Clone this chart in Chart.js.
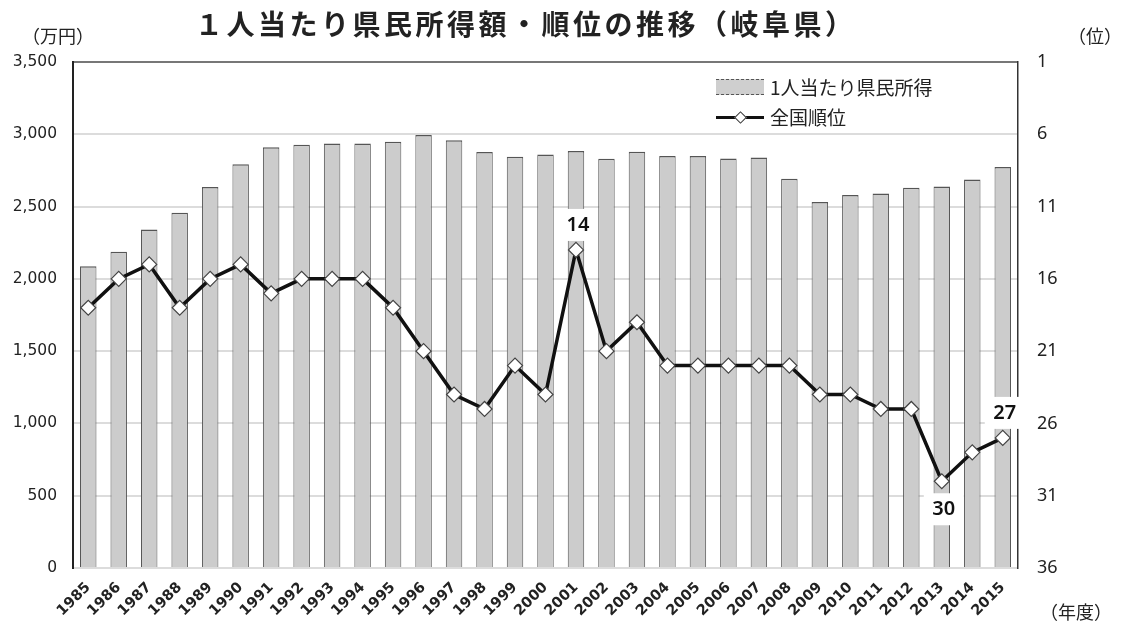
<!DOCTYPE html>
<html lang="ja">
<head>
<meta charset="utf-8">
<script src="https://cdn.jsdelivr.net/npm/chart.js@4.4.1/dist/chart.umd.min.js"></script>
<style>
  html, body { margin: 0; padding: 0; background: #fff; }
  #wrap { position: relative; width: 1124px; height: 632px; overflow: hidden; font-family: "Noto Sans CJK JP", sans-serif; color: #222; }
  #chart { position: absolute; left: 0; top: 0; }
  .txt { position: absolute; white-space: nowrap; }
  #title { left: 195px; top: 3px; font-size: 28px; letter-spacing: 3.5px; font-weight: 700; }
  #unitL { left: 22px; top: 22px; font-size: 18px; }
  #unitR { left: 1068px; top: 22px; font-size: 18px; }
  #unitX { left: 1040px; top: 598px; font-size: 18px; }
  .leg { position: absolute; left: 716px; font-size: 19px; display: flex; align-items: center; }
  .leg .sym { width: 48px; height: 16px; position: relative; margin-right: 6px; }
  .sym.bar { background: #cfcfcf; border-top: 1px dashed #555; border-bottom: 1px dashed #555; box-sizing: border-box; }
  .sym.line::before { content: ""; position: absolute; left: 0; right: 0; top: 7px; height: 3px; background: #111; }
  .sym.line::after { content: ""; position: absolute; left: 20px; top: 4px; width: 7px; height: 7px; background: #fff; border: 1px solid #333; transform: rotate(45deg); }
</style>
</head>
<body>
<div id="wrap">
  <canvas id="chart" width="1124" height="632"></canvas>
  <div class="txt" id="title">１人当たり県民所得額・順位の推移（岐阜県）</div>
  <div class="txt" id="unitL">（万円）</div>
  <div class="txt" id="unitR">（位）</div>
  <div class="txt" id="unitX">（年度）</div>
  <div class="leg" style="top:73px"><span class="sym bar"></span>1人当たり県民所得</div>
  <div class="leg" style="top:103px"><span class="sym line"></span>全国順位</div>
</div>
<script>
const years = ['1985', '1986', '1987', '1988', '1989', '1990', '1991', '1992', '1993', '1994',
  '1995', '1996', '1997', '1998', '1999', '2000', '2001', '2002', '2003', '2004',
  '2005', '2006', '2007', '2008', '2009', '2010', '2011', '2012', '2013', '2014', '2015'];

// 1人当たり県民所得（万円）
const income = [2088, 2188, 2342, 2458, 2635, 2792, 2911, 2928, 2937, 2937,
  2949, 2995, 2958, 2877, 2845, 2861, 2884, 2831, 2880, 2849,
  2849, 2833, 2840, 2693, 2531, 2580, 2591, 2631, 2638, 2688, 2773];

// 全国順位（位）
const ranks = [18, 16, 15, 18, 16, 15, 17, 16, 16, 16,
  18, 21, 24, 25, 22, 24, 14, 21, 19, 22,
  22, 22, 22, 22, 24, 24, 25, 25, 30, 28, 27];

const incomeTicks = [0, 500, 1000, 1500, 2000, 2500, 3000, 3500];
const rankTicks = [1, 6, 11, 16, 21, 26, 31, 36];

// which rank points get a label, and on which side
const labelledYears = ['2001', '2013', '2015'];
const labelSide = ['above', 'below', 'above'];

// chart area bounds
const AREA = { left: 73, right: 1018, top: 62, bottom: 568 };

const rankLabels = {
  id: 'rankLabels',
  afterDatasetsDraw(chart) {
    const ctx = chart.ctx;
    const meta = chart.getDatasetMeta(0);
    ctx.save();
    ctx.font = '600 20px "Noto Sans", sans-serif';
    ctx.textAlign = 'center';
    ctx.textBaseline = 'middle';
    labelledYears.forEach((yr, i) => {
      const idx = years.indexOf(yr);
      const pt = meta.data[idx];
      const txt = String(ranks[idx]);
      const dy = labelSide[i] === 'above' ? -25 : 28;
      const x = pt.x + 2, y = pt.y + dy;
      ctx.fillStyle = '#fff';
      ctx.fillRect(x - 20, y - 16, 40, 32);
      ctx.fillStyle = '#111';
      ctx.fillText(txt, x, y);
    });
    ctx.restore();
  }
};

new Chart(document.getElementById('chart'), {
  data: {
    labels: years,
    datasets: [
      {
        type: 'line',
        label: '全国順位',
        data: ranks,
        yAxisID: 'y1',
        order: 0,
        borderColor: '#111',
        borderWidth: 3.5,
        tension: 0,
        pointStyle: 'rectRot',
        pointRadius: 7.5,
        pointBackgroundColor: '#fff',
        pointBorderColor: '#444',
        pointBorderWidth: 1.2
      },
      {
        type: 'bar',
        label: '1人当たり県民所得',
        data: income,
        yAxisID: 'y',
        order: 1,
        backgroundColor: '#cccccc',
        borderColor: '#555',
        borderWidth: { top: 1.5, left: 1, right: 1, bottom: 0 },
        borderSkipped: false,
        barPercentage: 0.54,
        categoryPercentage: 1
      }
    ]
  },
  options: {
    responsive: false,
    animation: false,
    events: [],
    layout: { padding: { top: AREA.top, left: 0, right: 0, bottom: 0 } },
    plugins: {
      legend: { display: false },
      tooltip: { enabled: false }
    },
    scales: {
      x: {
        grid: { display: false },
        border: { display: false },
        ticks: {
          color: '#222',
          font: { family: '"DejaVu Sans", sans-serif', size: 14.5, weight: 'bold' },
          maxRotation: 45,
          minRotation: 45,
          autoSkip: false,
          padding: 3
        },
        afterFit(scale) { scale.height = 632 - AREA.bottom; }
      },
      y: {
        position: 'left',
        min: 0,
        max: 3500,
        afterBuildTicks(scale) { scale.ticks = incomeTicks.map(v => ({ value: v })); },
        ticks: {
          color: '#222',
          padding: 16,
          font: { family: '"DejaVu Sans", sans-serif', size: 15.5 },
          callback: v => v.toLocaleString('en-US')
        },
        grid: {
          drawTicks: false,
          lineWidth: 2,
          color: ctx => ctx.tick && ctx.tick.value === 3500 ? '#777' : '#dcdcdc'
        },
        border: { display: true, color: '#222', width: 2 },
        afterFit(scale) { scale.width = AREA.left; }
      },
      y1: {
        position: 'right',
        min: 1,
        max: 36,
        reverse: true,
        afterBuildTicks(scale) { scale.ticks = rankTicks.map(v => ({ value: v })); },
        ticks: {
          color: '#222',
          padding: 19,
          font: { family: '"Noto Sans", sans-serif', size: 18 }
        },
        grid: { display: false, drawTicks: false },
        border: { display: true, color: '#333', width: 1.5 },
        afterFit(scale) { scale.width = 1124 - AREA.right; }
      }
    }
  },
  plugins: [rankLabels]
});
</script>
</body>
</html>
